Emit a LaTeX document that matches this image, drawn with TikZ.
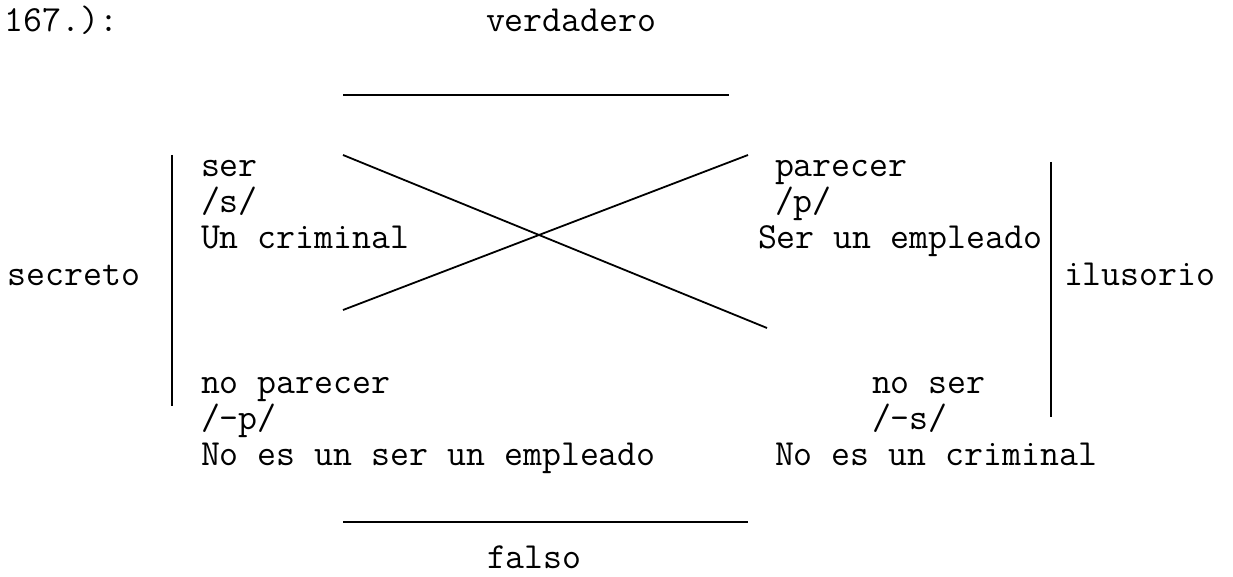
\documentclass[tikz,border=0pt]{standalone}
\usepackage{fontspec}
\begin{document}
\begin{tikzpicture}[x=1pt,y=-1pt,
  txt/.style={anchor=base west,inner sep=0pt,outer sep=0pt,font=\ttfamily\fontsize{36.8}{42}\selectfont},
  bar/.style={line width=2pt,black},
  cross/.style={line width=1.8pt,black}]
\useasboundingbox (0,0) rectangle (1233,577);
% header
\node[txt] (num) at (5,32) {167.):};
\node[txt] (ver) at (486,32) {verdadero};
\node[txt] (fal) at (487,568) {falso};
\node[txt] (sec) at (8,285) {secreto};
\node[txt] (ilu) at (1064,285) {ilusorio};
% corners
\node[txt] (s1) at (201,177) {ser};
\node[txt] (s2) at (201,213) {/s/};
\node[txt] (s3) at (201,248) {Un criminal};
\node[txt] (p1) at (775,177) {parecer};
\node[txt] (p2) at (775,213) {/p/};
\node[txt] (p3) at (758,248) {Ser un empleado};
\node[txt] (np1) at (201,393) {no parecer};
\node[txt] (np2) at (201,429) {/-p/};
\node[txt] (np3) at (201,465) {No es un ser un empleado};
\node[txt] (ns1) at (872,393) {no ser};
\node[txt] (ns2) at (872,429) {/-s/};
\node[txt] (ns3) at (775,465) {No es un criminal};
% lines
\coordinate (tl) at (343,95);  \coordinate (tr) at (729,95);
\coordinate (bl) at (343,522); \coordinate (br) at (748,522);
\coordinate (lt) at (172,155); \coordinate (lb) at (172,406);
\coordinate (rt) at (1051,162); \coordinate (rb) at (1051,417);
\coordinate (a1) at (343,155); \coordinate (a2) at (767,328);
\coordinate (b1) at (343,310); \coordinate (b2) at (748,155);
\draw[bar] (tl) -- (tr);
\draw[bar] (bl) -- (br);
\draw[bar] (lt) -- (lb);
\draw[bar] (rt) -- (rb);
\draw[cross] (a1) -- (a2);
\draw[cross] (b1) -- (b2);
\end{tikzpicture}
\end{document}
